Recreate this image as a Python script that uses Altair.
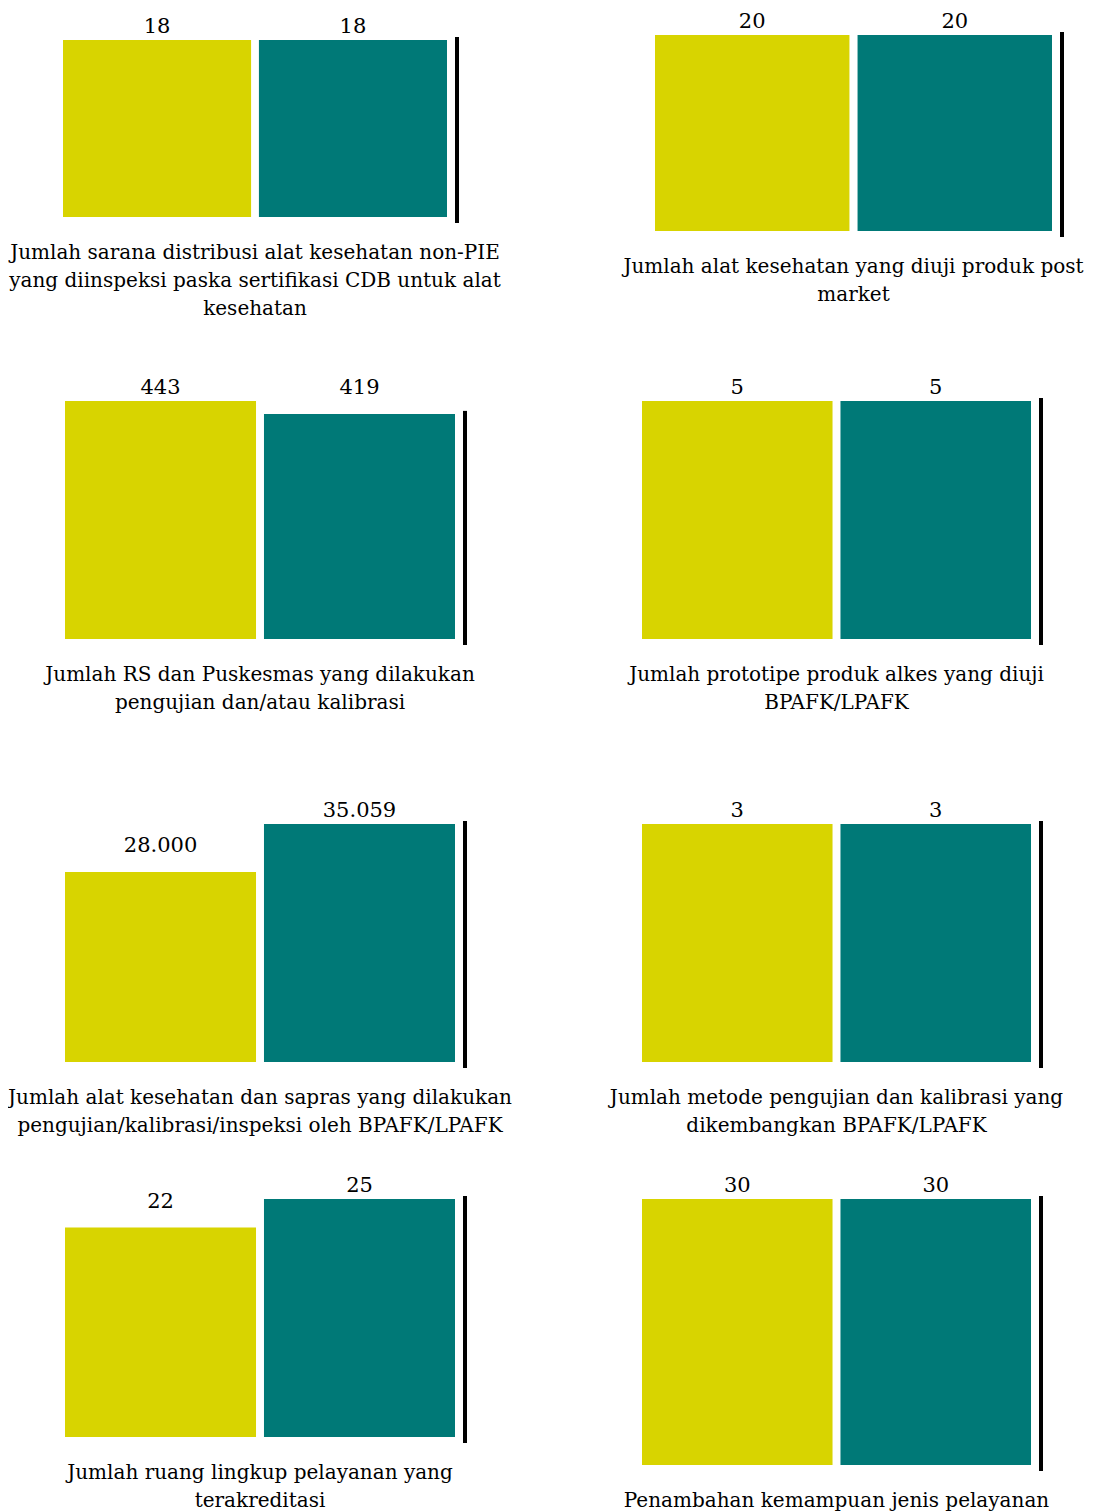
import altair as alt
import pandas as pd

# ---- data ----
series = ["Target", "Realisasi"]
target = [18, 20, 443, 5, 28000, 3, 22, 30]
realisasi = [18, 20, 419, 5, 35059, 3, 25, 30]
captions = [
    ["Jumlah sarana distribusi alat kesehatan non-PIE",
     "yang diinspeksi paska sertifikasi CDB untuk alat",
     "kesehatan"],
    ["Jumlah alat kesehatan yang diuji produk post", "market"],
    ["Jumlah RS dan Puskesmas yang dilakukan", "pengujian dan/atau kalibrasi"],
    ["Jumlah prototipe produk alkes yang diuji", "BPAFK/LPAFK"],
    ["Jumlah alat kesehatan dan sapras yang dilakukan",
     "pengujian/kalibrasi/inspeksi oleh BPAFK/LPAFK"],
    ["Jumlah metode pengujian dan kalibrasi yang", "dikembangkan BPAFK/LPAFK"],
    ["Jumlah ruang lingkup pelayanan yang", "terakreditasi"],
    ["Penambahan kemampuan jenis pelayanan"],
]

# ---- layout / style ----
colors = ["#D8D400", "#007977"]
FONT = "DejaVu Serif"
bars_w = [384, 397, 390, 389, 390, 389, 390, 389]
lead = [-2, 13, 0, 0, 0, 0, 0, 0]         # shift of the bars inside the panel
bar_h = [177, 196, 238, 238, 238, 238, 238, 266]
headroom = [15, 10, 70, 70, 85, 85, 37, 37]


def fmt(v):
    return f"{v:,}".replace(",", ".")


def panel(i):
    df = pd.DataFrame({
        "series": series,
        "value": [target[i], realisasi[i]],
        "label": [fmt(target[i]), fmt(realisasi[i])],
    })
    H = headroom[i] + bar_h[i]
    W = lead[i] + bars_w[i]
    xs = alt.X("series:N", sort=series, axis=None,
               scale=alt.Scale(paddingInner=0.04, paddingOuter=0, range=[lead[i], W]))
    ys = alt.Y("value:Q", axis=None,
               scale=alt.Scale(zero=True, nice=False, range=[H, headroom[i]]))
    base = alt.Chart(df).encode(x=xs, y=ys)
    bars = base.mark_bar().encode(
        color=alt.Color("series:N", scale=alt.Scale(domain=series, range=colors), legend=None)
    )
    lab = base.transform_joinaggregate(vmax="max(value)")
    labels_top = lab.transform_filter(alt.datum.value >= alt.datum.vmax).mark_text(
        baseline="alphabetic", dy=-7, fontSize=21, font=FONT, color="black"
    ).encode(text="label:N")
    labels_low = lab.transform_filter(alt.datum.value < alt.datum.vmax).mark_text(
        baseline="alphabetic", dy=-20, fontSize=21, font=FONT, color="black"
    ).encode(text="label:N")
    rule = base.transform_filter(alt.datum.series == "Realisasi").mark_rule(
        color="black", strokeWidth=4, xOffset=10, yOffset=-3, y2Offset=6
    ).encode(x=alt.X("series:N", sort=series, bandPosition=1), y2=alt.datum(0))
    return alt.layer(bars, labels_top, labels_low, rule).properties(
        width=W, height=H,
        title=alt.TitleParams(text=captions[i], orient="bottom", anchor="middle",
                              fontSize=20, font=FONT, fontWeight="normal",
                              lineHeight=28, offset=18, color="black",
                              dx=lead[i] / 2),
    )


chart = alt.concat(
    *[panel(i) for i in range(8)],
    columns=2,
    spacing={"row": 100, "column": 187},
    align={"row": "each", "column": "none"},
    bounds="flush",
).properties(
    padding={"left": 0, "top": 3, "right": 0, "bottom": 0}, background="white"
).configure_view(stroke=None)

chart.save("out.html", embed_options={"renderer": "svg", "actions": False})
